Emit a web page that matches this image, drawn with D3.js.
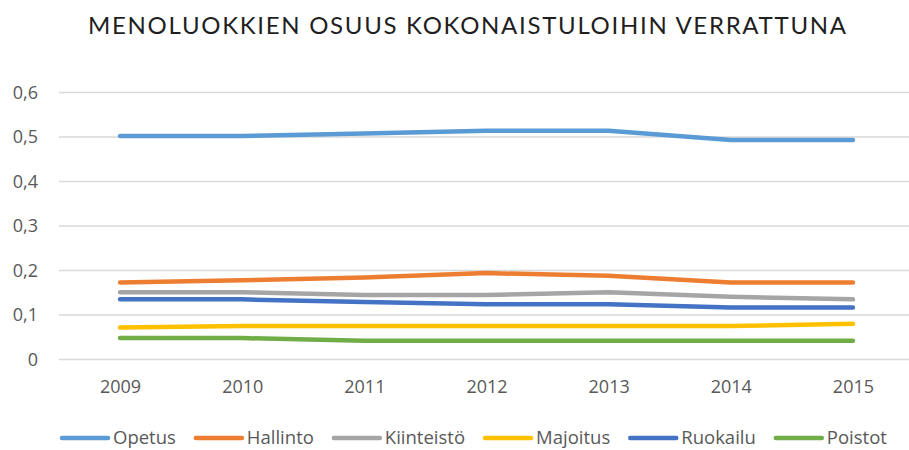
<!DOCTYPE html>
<html>
<head>
<meta charset="utf-8">
<script src="https://cdn.jsdelivr.net/npm/d3@7"></script>
<style>
  body { margin: 0; background: #fff; }
  text { font-family: "Open Sans", sans-serif; fill: #595959; }
</style>
</head>
<body>
<svg id="chart" width="909" height="450"></svg>
<script>
// Data
const years = ["2009", "2010", "2011", "2012", "2013", "2014", "2015"];
const yTicks = [0, 0.1, 0.2, 0.3, 0.4, 0.5, 0.6];
const seriesNames = ["Opetus", "Hallinto", "Kiinteistö", "Majoitus", "Ruokailu", "Poistot"];
const opetus = [0.501, 0.501, 0.507, 0.513, 0.513, 0.492, 0.492];
const hallinto = [0.172, 0.177, 0.183, 0.193, 0.187, 0.172, 0.172];
const kiinteisto = [0.150, 0.150, 0.144, 0.144, 0.150, 0.140, 0.134];
const majoitus = [0.071, 0.074, 0.074, 0.074, 0.074, 0.074, 0.079];
const ruokailu = [0.134, 0.134, 0.128, 0.123, 0.123, 0.116, 0.116];
const poistot = [0.047, 0.047, 0.041, 0.041, 0.041, 0.041, 0.041];
const colors = ["#5B9BD5", "#ED7D31", "#A5A5A5", "#FFC000", "#4472C4", "#70AD47"];

const series = [opetus, hallinto, kiinteisto, majoitus, ruokailu, poistot]
  .map((vals, i) => ({ name: seriesNames[i], values: vals }));

const svg = d3.select("#chart");
const margin = {top: 92, left: 59, bottom: 91, right: -5};
const width = 909, height = 450;

const x = d3.scalePoint()
  .domain(years)
  .range([margin.left, width - margin.right])
  .padding(0.5);

const y = d3.scaleLinear()
  .domain([0, 0.6])
  .range([height - margin.bottom, margin.top]);

const fmt = d3.formatLocale({decimal: ",", thousands: " ", grouping: [3], currency: ["", "€"]}).format(",.1~f");

// Title
svg.append("text")
  .attr("x", 467)
  .attr("y", 34)
  .attr("text-anchor", "middle")
  .attr("textLength", 758)
  .attr("lengthAdjust", "spacing")
  .style("font-family", "Lato, sans-serif")
  .style("font-weight", 400)
  .style("font-size", "24px")
  .style("fill", "#1f1f1f")
  .text("MENOLUOKKIEN OSUUS KOKONAISTULOIHIN VERRATTUNA");

// Y axis with gridlines
const yAxis = svg.append("g")
  .attr("transform", `translate(${margin.left},0)`)
  .call(d3.axisLeft(y).tickValues(yTicks).tickFormat(d => d === 0 ? "0" : fmt(d))
    .tickSize(-(width - margin.left)).tickPadding(21));
yAxis.select(".domain").remove();
yAxis.selectAll(".tick line").attr("stroke", "#d9d9d9").attr("stroke-width", 1.3);
yAxis.selectAll(".tick text").style("font-size", "18px").attr("dy", "0.35em");

// X axis
const xAxis = svg.append("g")
  .attr("transform", `translate(0,${height - margin.bottom})`)
  .call(d3.axisBottom(x).tickSize(0).tickPadding(21));
xAxis.select(".domain").remove();
xAxis.selectAll(".tick text").style("font-size", "18px");

// Lines
const line = d3.line()
  .x((d, i) => x(years[i]))
  .y(d => y(d));

svg.append("g").selectAll("path")
  .data(series)
  .enter().append("path")
    .attr("d", d => line(d.values))
    .attr("fill", "none")
    .attr("stroke", (d, i) => colors[i])
    .attr("stroke-width", 4.5)
    .attr("stroke-linecap", "round")
    .attr("stroke-linejoin", "round");

// Legend
const legend = svg.append("g").attr("transform", "translate(60,438)");
let lx = 0;
series.forEach((s, i) => {
  const g = legend.append("g").attr("transform", `translate(${lx},0)`);
  g.append("line")
    .attr("x1", 2).attr("x2", 48)
    .attr("stroke", colors[i])
    .attr("stroke-width", 4.5)
    .attr("stroke-linecap", "round");
  const t = g.append("text")
    .attr("x", 53)
    .attr("dy", "0.35em")
    .style("font-size", "18.5px")
    .text(s.name);
  lx += 53 + t.node().getComputedTextLength() + 18;
});
</script>
</body>
</html>
